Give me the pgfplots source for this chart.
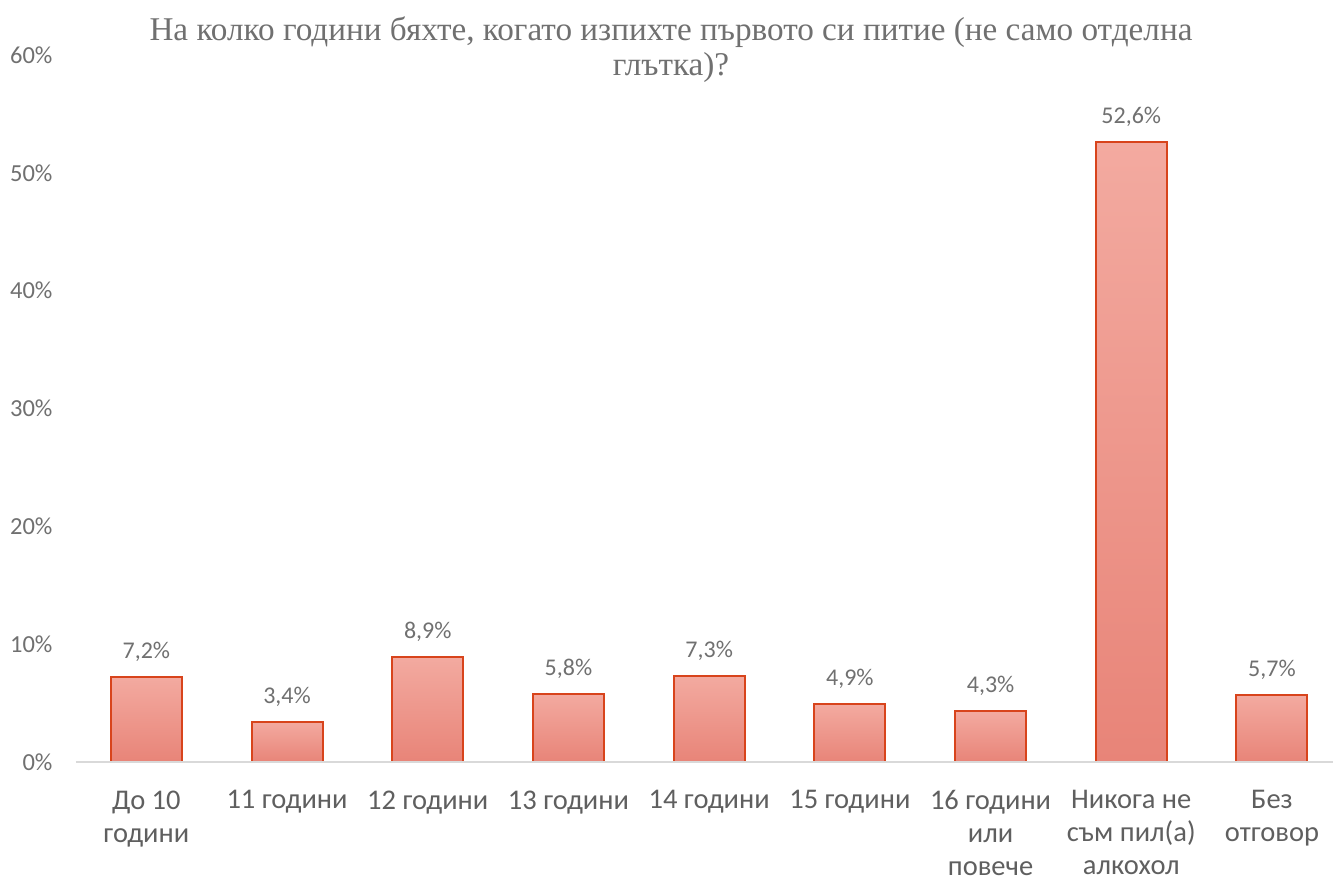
\documentclass[border=0pt]{standalone}
\usepackage{pgfplots}
\pgfplotsset{compat=1.18}
\usepackage{fontspec}
\setmainfont{Carlito}
\newfontfamily\titlefont{Liberation Serif}
\definecolor{txt}{RGB}{112,112,112}
\definecolor{xtxt}{RGB}{95,95,95}
\definecolor{bartop}{RGB}{243,170,160}
\definecolor{barbot}{RGB}{232,132,120}
\definecolor{barline}{RGB}{216,68,28}
\definecolor{base}{RGB}{217,217,217}
\pgfplotsset{mybar/.style={draw=barline, line width=2pt, top color=bartop, bottom color=barbot}}
\begin{document}
\begin{tikzpicture}
\useasboundingbox (0,0) rectangle (1333pt,882pt);
\node[font=\titlefont\fontsize{33.2}{35}\selectfont, text=txt, align=center, anchor=center] at (671pt,832.5pt)
  {На колко години бяхте, когато изпихте първото си питие (не само отделна\\глътка)?};
\begin{axis}[
  at={(76pt,120pt)}, anchor=south west,
  scale only axis, width=1257pt, height=707pt,
  xmin=-0.5, xmax=8.434, ymin=0, ymax=60,
  ybar, bar width=71pt, bar shift=0pt,
  axis line style={draw=none},
  major tick length=0pt,
  ytick={0,10,20,30,40,50,60},
  yticklabels={0\%,10\%,20\%,30\%,40\%,50\%,60\%},
  yticklabel style={font=\fontsize{24.5}{28}\selectfont, text=txt, xshift=-20pt},
  xtick={0,...,8},
  xticklabels={До 10\\години, 11 години, 12 години, 13 години, 14 години, 15 години, 16 години\\или\\повече, Никога не\\съм пил(а)\\алкохол, Без\\отговор},
  xticklabel style={font=\fontsize{28.5}{33}\selectfont, text=xtxt, align=center, anchor=north, yshift=-25pt},
  nodes near coords={\pgfmathprintnumber[fixed,fixed zerofill,precision=1,use comma,assume math mode=true]{\pgfplotspointmeta}\%},
  nodes near coords style={font=\fontsize{24}{27}\selectfont, text=txt, anchor=south, yshift=11pt},
  clip=false,
]
\addplot[mybar] coordinates {(0,7.2)};
\addplot[mybar] coordinates {(1,3.4)};
\addplot[mybar] coordinates {(2,8.9)};
\addplot[mybar] coordinates {(3,5.8)};
\addplot[mybar] coordinates {(4,7.3)};
\addplot[mybar] coordinates {(5,4.9)};
\addplot[mybar] coordinates {(6,4.3)};
\addplot[mybar] coordinates {(7,52.6)};
\addplot[mybar] coordinates {(8,5.7)};
\draw[base, line width=2pt] (axis cs:-0.5,0) -- (axis cs:8.434,0);
\end{axis}
\end{tikzpicture}
\end{document}
